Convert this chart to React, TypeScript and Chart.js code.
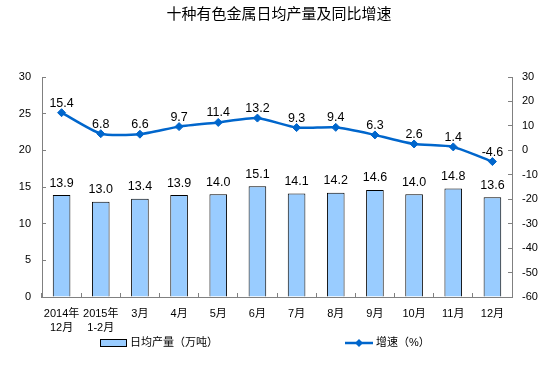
import React, { useEffect, useRef } from "react";
import { Chart, registerables } from "chart.js";

Chart.register(...registerables);

const titleText = "十种有色金属日均产量及同比增速";
const categories: (string | string[])[] = [
  ["2014年", "12月"],
  ["2015年", "1-2月"],
  "3月",
  "4月",
  "5月",
  "6月",
  "7月",
  "8月",
  "9月",
  "10月",
  "11月",
  "12月",
];
const outputValues = [13.9, 13.0, 13.4, 13.9, 14.0, 15.1, 14.1, 14.2, 14.6, 14.0, 14.8, 13.6];
const growthValues = [15.4, 6.8, 6.6, 9.7, 11.4, 13.2, 9.3, 9.4, 6.3, 2.6, 1.4, -4.6];
const outputLabel = "日均产量（万吨）";
const growthLabel = "增速（%）";
const leftAxis = { min: 0, max: 30, step: 5 };
const rightAxis = { min: -60, max: 30, step: 10 };

const FONT = "'Liberation Sans', Arial, 'Noto Sans CJK SC', sans-serif";
const CJK = "'Liberation Sans', 'Noto Sans CJK SC', sans-serif";
const BAR_FILL = "#99CCFF";
const LINE_COLOR = "#0066CC";
const AXIS_COLOR = "#808080";

const decorPlugin = {
  id: "decor",
  afterDatasetsDraw(chart: any) {
    const ctx = chart.ctx;
    ctx.save();
    ctx.fillStyle = "#000";
    ctx.font = `12.5px ${FONT}`;
    ctx.textAlign = "center";
    ctx.textBaseline = "alphabetic";
    chart.data.datasets.forEach((ds: any, i: number) => {
      const meta = chart.getDatasetMeta(i);
      meta.data.forEach((el: any, j: number) => {
        const v = ds.data[j] as number;
        const off = ds.type === "line" ? 6 : 8.5;
        ctx.fillText(v.toFixed(1), el.x, el.y - off);
      });
    });
    ctx.restore();
  },
  afterDraw(chart: any) {
    const ctx = chart.ctx;
    ctx.save();
    // title
    ctx.fillStyle = "#000";
    ctx.font = `15px 'Noto Sans CJK SC', sans-serif`;
    ctx.textAlign = "center";
    ctx.textBaseline = "middle";
    ctx.fillText(titleText, 279, 13);
    // legend
    const ly = 343;
    ctx.fillStyle = BAR_FILL;
    ctx.fillRect(100.5, 339.5, 26, 7);
    ctx.strokeStyle = "#000";
    ctx.lineWidth = 1;
    ctx.strokeRect(100.5, 339.5, 26, 7);
    ctx.fillStyle = "#000";
    ctx.font = `11px ${CJK}`;
    ctx.textAlign = "left";
    ctx.fillText(outputLabel, 130, ly);
    ctx.strokeStyle = LINE_COLOR;
    ctx.lineWidth = 2.5;
    ctx.beginPath();
    ctx.moveTo(345, ly);
    ctx.lineTo(373, ly);
    ctx.stroke();
    ctx.fillStyle = LINE_COLOR;
    ctx.beginPath();
    ctx.moveTo(359, ly - 4);
    ctx.lineTo(363, ly);
    ctx.lineTo(359, ly + 4);
    ctx.lineTo(355, ly);
    ctx.closePath();
    ctx.fill();
    ctx.fillStyle = "#000";
    ctx.fillText(growthLabel, 376, ly);
    ctx.restore();
  },
};

export default function App() {
  const ref = useRef<HTMLCanvasElement | null>(null);
  useEffect(() => {
    if (!ref.current) return;
    const chart = new Chart(ref.current, {
      type: "bar",
      data: {
        labels: categories,
        datasets: [
          {
            type: "line",
            label: growthLabel,
            data: growthValues,
            yAxisID: "y1",
            borderColor: LINE_COLOR,
            backgroundColor: LINE_COLOR,
            borderWidth: 2.5,
            pointStyle: "rectRot",
            pointRadius: 4,
            pointBackgroundColor: LINE_COLOR,
            pointBorderColor: LINE_COLOR,
            pointBorderWidth: 1,
            tension: 0.2,
            order: 0,
          } as any,
          {
            type: "bar",
            label: outputLabel,
            data: outputValues,
            yAxisID: "y",
            backgroundColor: BAR_FILL,
            borderColor: "#000",
            borderWidth: 1,
            categoryPercentage: 1,
            barPercentage: 0.45,
            order: 1,
          } as any,
        ],
      },
      options: {
        animation: false,
        responsive: false,
        devicePixelRatio: 1,
        layout: { padding: { top: 77, left: 0, right: 0, bottom: 0 } },
        plugins: {
          legend: { display: false },
          title: { display: false },
          tooltip: { enabled: false },
        },
        scales: {
          x: {
            grid: {
              display: true,
              drawOnChartArea: false,
              drawTicks: true,
              tickLength: -4,
              offset: true,
              color: AXIS_COLOR,
            },
            border: { display: true, color: AXIS_COLOR, width: 1 },
            ticks: {
              padding: 14,
              color: "#000",
              font: { family: CJK, size: 11, lineHeight: 1.25 },
              maxRotation: 0,
              autoSkip: false,
            },
            afterFit: (s: any) => {
              s.height = 75;
            },
          },
          y: {
            position: "left",
            min: leftAxis.min,
            max: leftAxis.max,
            grid: {
              display: true,
              drawOnChartArea: false,
              drawTicks: true,
              tickLength: -4,
              color: AXIS_COLOR,
            },
            border: { display: true, color: AXIS_COLOR, width: 1 },
            ticks: {
              stepSize: leftAxis.step,
              padding: 15,
              color: "#000",
              font: { family: FONT, size: 11 },
            },
            afterFit: (s: any) => {
              s.width = 42;
            },
          },
          y1: {
            position: "right",
            min: rightAxis.min,
            max: rightAxis.max,
            grid: {
              display: true,
              drawOnChartArea: false,
              drawTicks: true,
              tickLength: -4,
              color: AXIS_COLOR,
            },
            border: { display: true, color: AXIS_COLOR, width: 1 },
            ticks: {
              stepSize: rightAxis.step,
              padding: 14,
              color: "#000",
              font: { family: FONT, size: 11 },
            },
            afterFit: (s: any) => {
              s.width = 32;
            },
          },
        },
      } as any,
      plugins: [decorPlugin],
    });
    return () => chart.destroy();
  }, []);
  return (
    <div style={{ position: "fixed", left: 0, top: 0, width: 544, height: 372, background: "#fff" }}>
      <canvas ref={ref} width={544} height={372} style={{ width: 544, height: 372, display: "block" }} />
    </div>
  );
}
